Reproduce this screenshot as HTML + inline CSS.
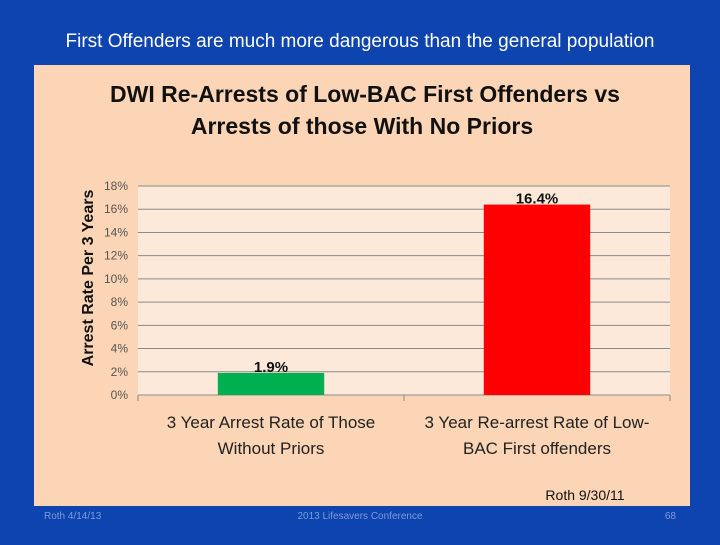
<!DOCTYPE html>
<html><head><meta charset="utf-8"><style>
body{margin:0;width:720px;height:540px;background:#0e44b0;overflow:hidden;font-family:"Liberation Sans",sans-serif;}
</style></head><body>
<svg width="720" height="540">
<rect x="0" y="0" width="720" height="540" fill="#0e44b0"/>
<text x="360" y="47" text-anchor="middle" font-size="19" fill="#fff">First Offenders are much more dangerous than the general population</text>
<rect x="34" y="65" width="656" height="441" fill="#fbd5b5"/>
<text x="365" y="102" text-anchor="middle" font-size="23" font-weight="bold" fill="#111">DWI Re-Arrests of Low-BAC First Offenders vs</text>
<text x="362" y="134" text-anchor="middle" font-size="23" font-weight="bold" fill="#111">Arrests of those With No Priors</text>
<g id="chart"></g>
<text x="585" y="500" text-anchor="middle" font-size="14" fill="#111">Roth 9/30/11</text>
<text x="44" y="519" font-size="10" fill="#7f9ad6">Roth 4/14/13</text>
<text x="360" y="519" text-anchor="middle" font-size="10" fill="#7f9ad6">2013 Lifesavers Conference</text>
<text x="676" y="519" text-anchor="end" font-size="10" fill="#7f9ad6">68</text>
</svg>
<script>
const categories=[["3 Year Arrest Rate of Those","Without Priors"],["3 Year Re-arrest Rate of Low-","BAC First offenders"]];
const values=[1.9,16.4];
const valueLabels=["1.9%","16.4%"];
const colors=["#00b050","#ff0000"];
const ticks=[0,2,4,6,8,10,12,14,16,18];
const NS="http://www.w3.org/2000/svg";
const g=document.getElementById('chart');
const L=138,R=670,T=186,B=395,yMax=18;
const y=v=>B-(v/yMax)*(B-T);
const bw=(R-L)/categories.length;
const x=i=>L+bw*i;
function mk(t,a){const e=document.createElementNS(NS,t);for(const k in a)e.setAttribute(k,a[k]);g.appendChild(e);return e;}
const bg=mk('rect',{x:L,y:T,width:R-L,height:B-T,fill:'#fde9d9'});


ticks.forEach(t=>{
 const l=mk('line',{x1:L,x2:R,y1:y(t),y2:y(t),stroke:'#8a8a8a','stroke-width':1});
 
 
 const tx=mk('text',{x:L-10,y:y(t)+4,'text-anchor':'end','font-size':12,fill:'#555'});
 tx.textContent=t+'%';
 
 
});
[0,1,2].forEach(i=>{const l=mk('line',{x1:x(i),x2:x(i),y1:B,y2:B+6,stroke:'#8a8a8a'});
 
 });
values.forEach((v,i)=>{
 const cx=x(i)+bw/2;
 const r=mk('rect',{x:cx-bw*0.2,y:y(v),width:bw*0.4,height:B-y(v),fill:colors[i]});
 
 
 const t=mk('text',{x:cx,y:y(v)-1,'text-anchor':'middle','font-size':15,'font-weight':'bold',fill:'#111'});
 t.textContent=valueLabels[i];
 
 
 categories[i].forEach((s,j)=>{
  const c=mk('text',{x:cx,y:428+j*26,'text-anchor':'middle','font-size':17,fill:'#222'});
  c.textContent=s;
  
  
 });
});
const yt=mk('text',{x:0,y:0,'text-anchor':'middle','font-size':16,'font-weight':'bold',fill:'#111',transform:'translate(93,278) rotate(-90)'});
yt.textContent='Arrest Rate Per 3 Years';


</script>
</body></html>
